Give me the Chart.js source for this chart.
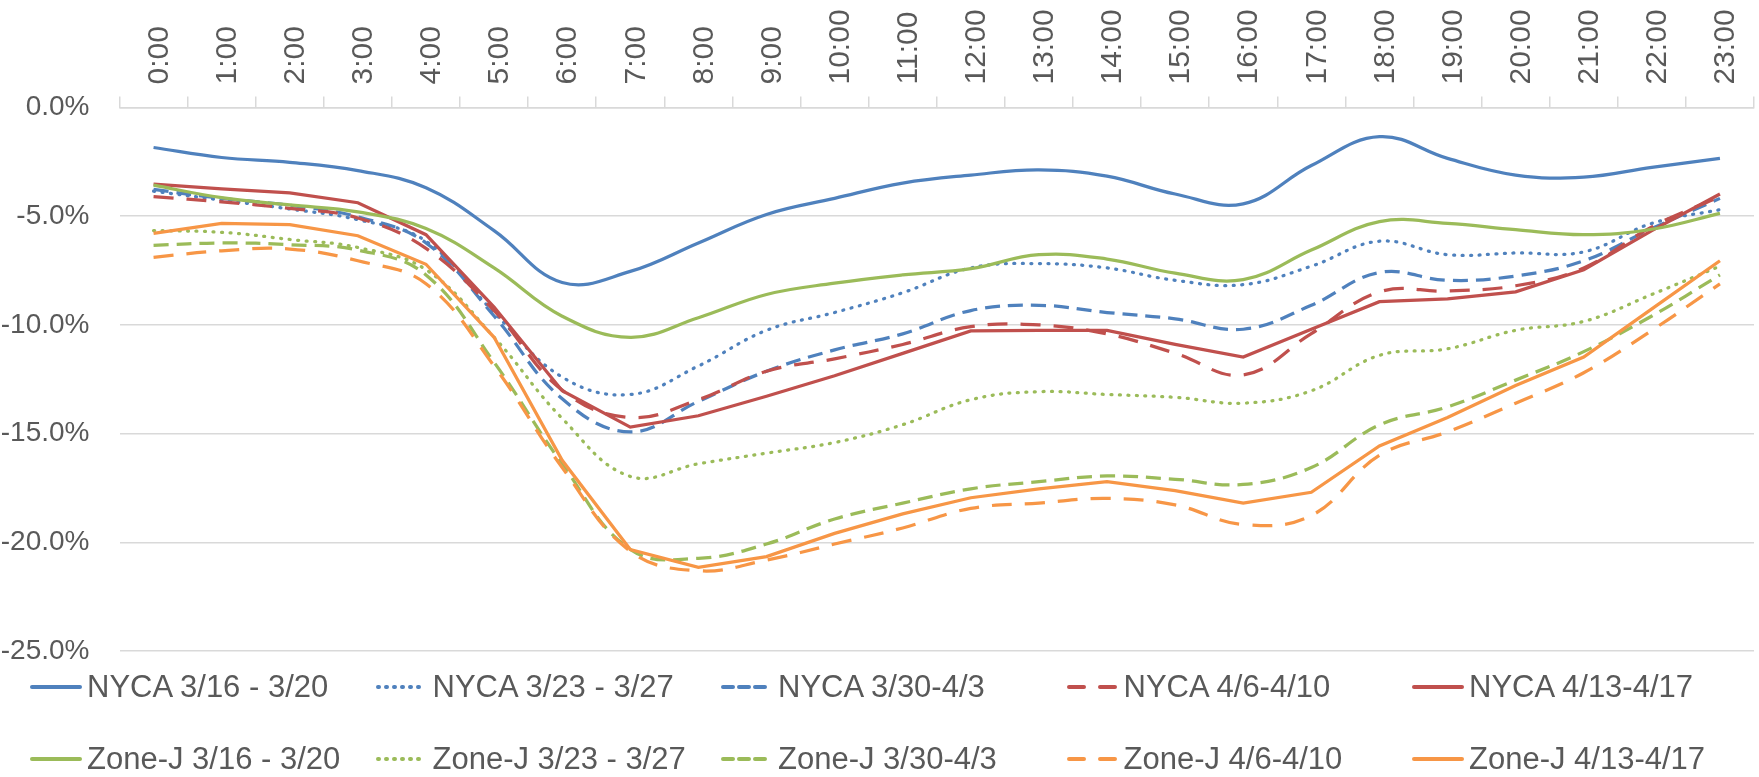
<!DOCTYPE html>
<html lang="en">
<head>
<meta charset="UTF-8">
<title>NYCA / Zone-J load change by hour</title>
<script src="https://cdn.jsdelivr.net/npm/chart.js"></script>
<style>
  body { margin: 0; background: #fff; }
  #wrap { position: relative; width: 1759px; height: 777px; }
  #legend { position: absolute; left: 0; top: 0; width: 1759px; height: 777px; pointer-events: none; }
  .item { position: absolute; display: flex; align-items: center; height: 40px;
          font: 31px "Liberation Sans", Arial, sans-serif; color: #595959; white-space: nowrap; }
  .item svg { margin-right: 5px; }
</style>
</head>
<body>
<div id="wrap">
  <canvas id="chart" width="1759" height="777"></canvas>
  <div id="legend"></div>
</div>
<script>
// hourly change vs. baseline, in percent
const hours = ['0:00','1:00','2:00','3:00','4:00','5:00','6:00','7:00','8:00','9:00','10:00','11:00',
               '12:00','13:00','14:00','15:00','16:00','17:00','18:00','19:00','20:00','21:00','22:00','23:00'];
const yTicks = [0, -5, -10, -15, -20, -25];

const nyca0316 = [-1.84,-2.30,-2.52,-2.90,-3.69,-5.66,-8.05,-7.54,-6.23,-4.92,-4.18,-3.48,
                  -3.11,-2.87,-3.16,-3.98,-4.43,-2.67,-1.34,-2.34,-3.11,-3.20,-2.75,-2.34];
const nyca0323 = [-3.85,-4.26,-4.67,-5.16,-6.15,-9.43,-12.4,-13.2,-11.89,-10.25,-9.43,-8.52,
                  -7.38,-7.18,-7.38,-7.95,-8.15,-7.30,-6.15,-6.77,-6.69,-6.64,-5.33,-4.70];
const nyca0330 = [-3.77,-4.18,-4.50,-5.03,-6.23,-9.59,-13.4,-14.92,-13.52,-12.13,-11.15,-10.41,
                  -9.34,-9.10,-9.43,-9.72,-10.2,-9.10,-7.59,-7.95,-7.75,-7.05,-5.57,-4.18];
const nyca0406 = [-4.10,-4.34,-4.64,-5.08,-6.48,-9.34,-13.0,-14.26,-13.44,-12.13,-11.56,-10.9,
                  -10.08,-10.0,-10.41,-11.3,-12.3,-10.4,-8.48,-8.44,-8.20,-7.38,-5.49,-4.10];
const nyca0413 = [-3.52,-3.74,-3.93,-4.38,-5.85,-9.18,-13.03,-14.7,-14.18,-13.28,-12.34,-11.31,
                  -10.28,-10.25,-10.25,-10.9,-11.48,-10.2,-8.93,-8.80,-8.48,-7.46,-5.66,-3.98];
const zoneJ0316 = [-3.57,-4.15,-4.48,-4.80,-5.57,-7.38,-9.60,-10.57,-9.67,-8.60,-8.08,-7.70,
                   -7.41,-6.77,-6.97,-7.62,-7.92,-6.56,-5.25,-5.33,-5.62,-5.85,-5.60,-4.87];
const zoneJ0323 = [-5.66,-5.74,-6.07,-6.44,-7.46,-10.57,-14.3,-16.97,-16.39,-15.9,-15.41,-14.59,
                   -13.44,-13.07,-13.2,-13.33,-13.6,-13.03,-11.4,-11.1,-10.25,-9.84,-8.60,-7.30];
const zoneJ0330 = [-6.34,-6.23,-6.31,-6.56,-7.70,-11.72,-16.39,-20.33,-20.74,-20.08,-18.93,-18.2,
                   -17.54,-17.21,-16.95,-17.1,-17.34,-16.56,-14.6,-13.77,-12.54,-11.23,-9.59,-7.70];
const zoneJ0406 = [-6.89,-6.59,-6.51,-7.05,-8.11,-11.89,-16.56,-20.41,-21.31,-20.82,-20.08,-19.34,
                   -18.44,-18.2,-17.98,-18.28,-19.18,-18.77,-16.0,-14.92,-13.6,-12.2,-10.25,-8.11];
const zoneJ0413 = [-5.79,-5.33,-5.39,-5.90,-7.21,-10.57,-16.23,-20.33,-21.15,-20.66,-19.59,-18.69,
                   -17.95,-17.54,-17.21,-17.62,-18.2,-17.7,-15.57,-14.26,-12.79,-11.48,-9.26,-7.05];

const seriesNames = ['NYCA 3/16 - 3/20','NYCA 3/23 - 3/27','NYCA 3/30-4/3','NYCA 4/6-4/10','NYCA 4/13-4/17',
                     'Zone-J 3/16 - 3/20','Zone-J 3/23 - 3/27','Zone-J 3/30-4/3','Zone-J 4/6-4/10','Zone-J 4/13-4/17'];
const seriesData = [nyca0316, nyca0323, nyca0330, nyca0406, nyca0413,
                    zoneJ0316, zoneJ0323, zoneJ0330, zoneJ0406, zoneJ0413];

// line looks (colour, dash in chart, dash in legend sample, smoothing)
const BLUE = '#4F81BD', RED = '#C0504D', GREEN = '#9BBB59', ORANGE = '#F79646';
const SOLID = { chart: [], key: [] };
const DOT = { chart: [1, 7.5], key: [1, 7] };
const DASH = { chart: [15, 8], key: [10, 6] };
const LONGDASH = { chart: [20, 13], key: [15, 16] };
const looks = [
  { color: BLUE,   dash: SOLID,    smooth: true  },
  { color: BLUE,   dash: DOT,      smooth: true  },
  { color: BLUE,   dash: DASH,     smooth: true  },
  { color: RED,    dash: LONGDASH, smooth: true  },
  { color: RED,    dash: SOLID,    smooth: false },
  { color: GREEN,  dash: SOLID,    smooth: true  },
  { color: GREEN,  dash: DOT,      smooth: true  },
  { color: GREEN,  dash: DASH,     smooth: true  },
  { color: ORANGE, dash: LONGDASH, smooth: true  },
  { color: ORANGE, dash: SOLID,    smooth: false }
];

const datasets = seriesData.map((d, i) => ({
  label: seriesNames[i],
  data: d,
  borderColor: looks[i].color,
  backgroundColor: looks[i].color,
  borderWidth: 3.25,
  borderDash: looks[i].dash.chart,
  borderCapStyle: looks[i].dash === DOT ? 'round' : 'butt',
  tension: looks[i].smooth ? 0.4 : 0,
  pointRadius: 0,
  fill: false,
  order: 10 - i   // later series on top, like the original
}));

const GRID = '#d9d9d9';
const TEXT = '#595959';

new Chart(document.getElementById('chart'), {
  type: 'line',
  data: { labels: hours, datasets: datasets },
  options: {
    responsive: false,
    animation: false,
    layout: { padding: { left: 0, right: 5, top: 0, bottom: 126 } },
    plugins: { legend: { display: false }, tooltip: { enabled: false } },
    scales: {
      x: {
        position: 'top',
        offset: true,
        grid: { display: true, drawOnChartArea: false, drawTicks: true, tickLength: 11,
                offset: true, color: GRID, lineWidth: 1.5 },
        border: { display: true, color: GRID, width: 1.5 },
        ticks: { minRotation: 90, maxRotation: 90, autoSkip: false, padding: 12, labelOffset: 42,
                 color: TEXT, font: { family: '"Liberation Sans", Arial, sans-serif', size: 30 } },
        afterFit: s => { s.height = 107.5; }
      },
      y: {
        min: yTicks[yTicks.length - 1],
        max: yTicks[0],
        afterBuildTicks: s => { s.ticks = yTicks.map(v => ({ value: v })); },
        grid: { color: GRID, lineWidth: 1.5, drawTicks: false },
        border: { display: false },
        ticks: { padding: 30, color: TEXT,
                 font: { family: '"Liberation Sans Narrow", "Liberation Sans", sans-serif', size: 28 },
                 callback: v => v.toFixed(1) + '%' },
        afterFit: s => { s.width = 119.5; }
      }
    }
  }
});

// legend: two rows of five, fixed columns as in the original
const legend = document.getElementById('legend');
datasets.forEach((ds, i) => {
  const col = i % 5, row = Math.floor(i / 5);
  const item = document.createElement('div');
  item.className = 'item';
  item.style.left = (30 + 345.5 * col) + 'px';
  item.style.top = (row === 0 ? 667 : 739) + 'px';
  const key = looks[i].dash.key;
  const dash = key.length ? key.join(' ') : 'none';
  item.innerHTML =
    '<svg width="52" height="10"><line x1="2" y1="5" x2="50" y2="5" stroke="' + ds.borderColor +
    '" stroke-width="4" stroke-dasharray="' + dash + '" stroke-linecap="round"/></svg>' +
    '<span></span>';
  item.querySelector('span').textContent = ds.label;
  legend.appendChild(item);
});
</script>
</body>
</html>
